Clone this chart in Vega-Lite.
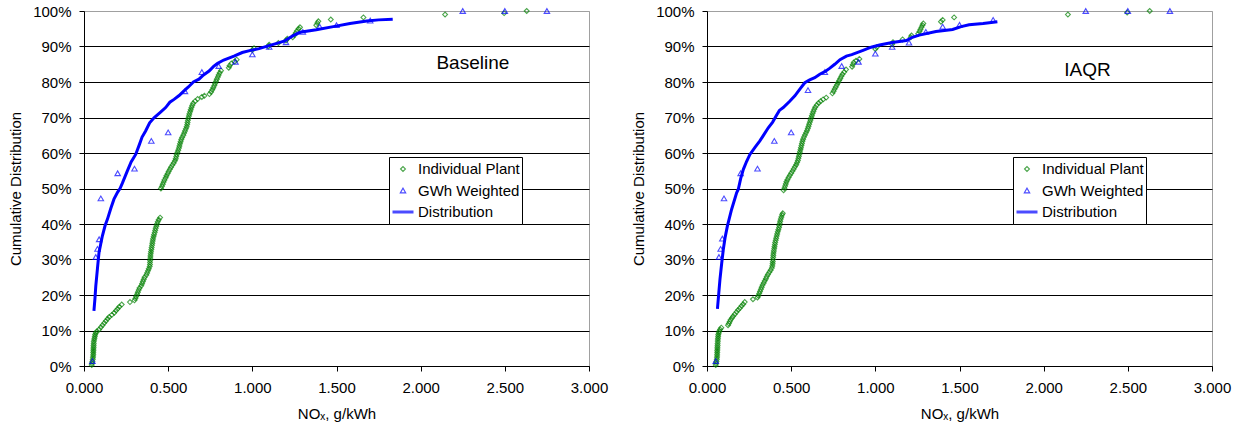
{
  "$schema": "https://vega.github.io/schema/vega-lite/v6.json",
  "padding": {"left": 8, "top": 3, "right": 5, "bottom": 3},
  "spacing": 118,
  "bounds": "flush",
  "config": {
    "font": "Liberation Sans",
    "view": {"stroke": "#a0a0a0", "strokeWidth": 1},
    "axis": {"labelFont": "Liberation Sans", "titleFont": "Liberation Sans", "labelColor": "black", "titleColor": "black", "labelFontSize": 15, "titleFontSize": 15, "titleFontWeight": "normal", "domainColor": "black", "tickColor": "black", "tickSize": 5, "labelFlush": false, "labelOverlap": false},
    "legend": {"title": null, "strokeColor": "black", "fillColor": "white", "padding": 2, "labelFont": "Liberation Sans", "labelFontSize": 15, "labelColor": "black", "labelOffset": 3, "rowPadding": 1.5, "clipHeight": 20, "gridAlign": "each", "orient": "none"}
  },
  "datasets": {
    "baseline": [
      {"s":"Individual Plant","x":0.046,"y":0.3},{"s":"Individual Plant","x":0.048,"y":0.8},{"s":"Individual Plant","x":0.05,"y":1.3},{"s":"Individual Plant","x":0.052,"y":1.8},{"s":"Individual Plant","x":0.053,"y":2.3},{"s":"Individual Plant","x":0.054,"y":2.8},{"s":"Individual Plant","x":0.055,"y":3.3},{"s":"Individual Plant","x":0.055,"y":3.8},{"s":"Individual Plant","x":0.056,"y":4.3},{"s":"Individual Plant","x":0.056,"y":4.8},{"s":"Individual Plant","x":0.057,"y":5.3},{"s":"Individual Plant","x":0.057,"y":5.8},{"s":"Individual Plant","x":0.058,"y":6.3},{"s":"Individual Plant","x":0.058,"y":6.8},{"s":"Individual Plant","x":0.06,"y":7.3},{"s":"Individual Plant","x":0.062,"y":7.8},{"s":"Individual Plant","x":0.064,"y":8.3},{"s":"Individual Plant","x":0.066,"y":8.8},{"s":"Individual Plant","x":0.07,"y":9.3},{"s":"Individual Plant","x":0.077,"y":9.8},
      {"s":"Individual Plant","x":0.09,"y":10.3},{"s":"Individual Plant","x":0.1,"y":10.9},{"s":"Individual Plant","x":0.11,"y":11.5},{"s":"Individual Plant","x":0.12,"y":12.1},{"s":"Individual Plant","x":0.13,"y":12.7},{"s":"Individual Plant","x":0.14,"y":13.3},{"s":"Individual Plant","x":0.15,"y":13.8},{"s":"Individual Plant","x":0.165,"y":14.4},{"s":"Individual Plant","x":0.18,"y":15.0},{"s":"Individual Plant","x":0.19,"y":15.6},{"s":"Individual Plant","x":0.2,"y":16.1},{"s":"Individual Plant","x":0.21,"y":16.7},{"s":"Individual Plant","x":0.224,"y":17.3},
      {"s":"Individual Plant","x":0.273,"y":18.0},{"s":"Individual Plant","x":0.3,"y":18.5},{"s":"Individual Plant","x":0.305,"y":19.0},{"s":"Individual Plant","x":0.31,"y":19.6},{"s":"Individual Plant","x":0.315,"y":20.2},{"s":"Individual Plant","x":0.32,"y":20.8},{"s":"Individual Plant","x":0.325,"y":21.4},{"s":"Individual Plant","x":0.33,"y":22.0},{"s":"Individual Plant","x":0.34,"y":22.6},{"s":"Individual Plant","x":0.345,"y":23.2},{"s":"Individual Plant","x":0.35,"y":23.8},{"s":"Individual Plant","x":0.355,"y":24.4},{"s":"Individual Plant","x":0.36,"y":25.0},{"s":"Individual Plant","x":0.37,"y":25.6},{"s":"Individual Plant","x":0.375,"y":26.2},{"s":"Individual Plant","x":0.38,"y":26.8},{"s":"Individual Plant","x":0.385,"y":27.4},{"s":"Individual Plant","x":0.39,"y":28.0},{"s":"Individual Plant","x":0.392,"y":28.6},{"s":"Individual Plant","x":0.392,"y":29.2},{"s":"Individual Plant","x":0.393,"y":29.8},{"s":"Individual Plant","x":0.394,"y":30.4},{"s":"Individual Plant","x":0.395,"y":31.0},{"s":"Individual Plant","x":0.396,"y":31.6},{"s":"Individual Plant","x":0.398,"y":32.2},{"s":"Individual Plant","x":0.4,"y":32.8},{"s":"Individual Plant","x":0.402,"y":33.4},{"s":"Individual Plant","x":0.404,"y":34.0},{"s":"Individual Plant","x":0.406,"y":34.6},{"s":"Individual Plant","x":0.408,"y":35.2},{"s":"Individual Plant","x":0.41,"y":35.8},{"s":"Individual Plant","x":0.413,"y":36.4},{"s":"Individual Plant","x":0.416,"y":37.0},{"s":"Individual Plant","x":0.42,"y":37.6},{"s":"Individual Plant","x":0.423,"y":38.2},{"s":"Individual Plant","x":0.426,"y":38.8},{"s":"Individual Plant","x":0.43,"y":39.4},{"s":"Individual Plant","x":0.434,"y":40.0},{"s":"Individual Plant","x":0.438,"y":40.6},{"s":"Individual Plant","x":0.444,"y":41.2},{"s":"Individual Plant","x":0.452,"y":41.8},
      {"s":"Individual Plant","x":0.457,"y":50.0},{"s":"Individual Plant","x":0.463,"y":50.6},{"s":"Individual Plant","x":0.468,"y":51.2},{"s":"Individual Plant","x":0.473,"y":51.8},{"s":"Individual Plant","x":0.478,"y":52.4},{"s":"Individual Plant","x":0.485,"y":53.0},{"s":"Individual Plant","x":0.49,"y":53.6},{"s":"Individual Plant","x":0.497,"y":54.2},{"s":"Individual Plant","x":0.503,"y":54.8},{"s":"Individual Plant","x":0.51,"y":55.4},{"s":"Individual Plant","x":0.517,"y":56.0},{"s":"Individual Plant","x":0.525,"y":56.6},{"s":"Individual Plant","x":0.533,"y":57.2},{"s":"Individual Plant","x":0.54,"y":57.8},{"s":"Individual Plant","x":0.545,"y":58.4},{"s":"Individual Plant","x":0.548,"y":59.0},{"s":"Individual Plant","x":0.551,"y":59.6},{"s":"Individual Plant","x":0.555,"y":60.2},{"s":"Individual Plant","x":0.56,"y":60.8},{"s":"Individual Plant","x":0.564,"y":61.4},{"s":"Individual Plant","x":0.567,"y":62.0},{"s":"Individual Plant","x":0.57,"y":62.6},{"s":"Individual Plant","x":0.574,"y":63.2},{"s":"Individual Plant","x":0.578,"y":63.8},{"s":"Individual Plant","x":0.583,"y":64.4},{"s":"Individual Plant","x":0.59,"y":65.0},{"s":"Individual Plant","x":0.595,"y":65.6},{"s":"Individual Plant","x":0.6,"y":66.2},{"s":"Individual Plant","x":0.605,"y":66.8},{"s":"Individual Plant","x":0.61,"y":67.4},{"s":"Individual Plant","x":0.613,"y":68.0},{"s":"Individual Plant","x":0.615,"y":68.6},{"s":"Individual Plant","x":0.617,"y":69.2},{"s":"Individual Plant","x":0.62,"y":69.8},{"s":"Individual Plant","x":0.623,"y":70.4},{"s":"Individual Plant","x":0.626,"y":71.0},{"s":"Individual Plant","x":0.63,"y":71.6},{"s":"Individual Plant","x":0.634,"y":72.2},{"s":"Individual Plant","x":0.638,"y":72.8},{"s":"Individual Plant","x":0.643,"y":73.4},{"s":"Individual Plant","x":0.648,"y":74.0},{"s":"Individual Plant","x":0.66,"y":74.6},{"s":"Individual Plant","x":0.675,"y":75.2},{"s":"Individual Plant","x":0.7,"y":75.8},{"s":"Individual Plant","x":0.715,"y":76.1},{"s":"Individual Plant","x":0.745,"y":76.6},{"s":"Individual Plant","x":0.755,"y":77.2},{"s":"Individual Plant","x":0.762,"y":77.8},{"s":"Individual Plant","x":0.768,"y":78.4},{"s":"Individual Plant","x":0.774,"y":79.0},{"s":"Individual Plant","x":0.779,"y":79.6},{"s":"Individual Plant","x":0.784,"y":80.2},{"s":"Individual Plant","x":0.789,"y":80.8},{"s":"Individual Plant","x":0.795,"y":81.4},{"s":"Individual Plant","x":0.8,"y":82.0},{"s":"Individual Plant","x":0.806,"y":82.6},{"s":"Individual Plant","x":0.814,"y":83.2},
      {"s":"Individual Plant","x":0.86,"y":84.0},{"s":"Individual Plant","x":0.865,"y":84.6},{"s":"Individual Plant","x":0.875,"y":85.2},{"s":"Individual Plant","x":0.895,"y":85.8},{"s":"Individual Plant","x":0.907,"y":86.3},{"s":"Individual Plant","x":1.0,"y":89.0},{"s":"Individual Plant","x":1.01,"y":89.5},{"s":"Individual Plant","x":1.095,"y":90.0},{"s":"Individual Plant","x":1.1,"y":90.5},{"s":"Individual Plant","x":1.155,"y":91.0},{"s":"Individual Plant","x":1.2,"y":91.7},{"s":"Individual Plant","x":1.208,"y":92.2},{"s":"Individual Plant","x":1.24,"y":92.6},{"s":"Individual Plant","x":1.25,"y":93.2},{"s":"Individual Plant","x":1.258,"y":93.8},{"s":"Individual Plant","x":1.265,"y":94.4},{"s":"Individual Plant","x":1.275,"y":95.0},{"s":"Individual Plant","x":1.283,"y":95.4},{"s":"Individual Plant","x":1.38,"y":96.0},{"s":"Individual Plant","x":1.386,"y":96.6},{"s":"Individual Plant","x":1.392,"y":97.1},{"s":"Individual Plant","x":1.466,"y":97.6},{"s":"Individual Plant","x":1.66,"y":98.2},{"s":"Individual Plant","x":2.145,"y":99.0},{"s":"Individual Plant","x":2.496,"y":99.4},{"s":"Individual Plant","x":2.63,"y":100.0},
      {"s":"GWh Weighted","x":0.05,"y":1.4},{"s":"GWh Weighted","x":0.07,"y":30.7},{"s":"GWh Weighted","x":0.08,"y":33.0},{"s":"GWh Weighted","x":0.09,"y":35.7},{"s":"GWh Weighted","x":0.1,"y":47.2},{"s":"GWh Weighted","x":0.2,"y":54.3},{"s":"GWh Weighted","x":0.3,"y":55.6},{"s":"GWh Weighted","x":0.4,"y":63.4},{"s":"GWh Weighted","x":0.5,"y":65.8},{"s":"GWh Weighted","x":0.6,"y":77.4},{"s":"GWh Weighted","x":0.7,"y":82.8},{"s":"GWh Weighted","x":0.8,"y":84.5},{"s":"GWh Weighted","x":0.9,"y":85.7},{"s":"GWh Weighted","x":1.0,"y":87.8},{"s":"GWh Weighted","x":1.1,"y":89.9},{"s":"GWh Weighted","x":1.2,"y":91.2},{"s":"GWh Weighted","x":1.3,"y":94.1},{"s":"GWh Weighted","x":1.4,"y":95.6},{"s":"GWh Weighted","x":1.5,"y":96.0},{"s":"GWh Weighted","x":1.7,"y":97.3},{"s":"GWh Weighted","x":2.25,"y":100.0},{"s":"GWh Weighted","x":2.5,"y":100.0},{"s":"GWh Weighted","x":2.75,"y":100.0},
      {"s":"Distribution","x":0.059,"y":15.5},{"s":"Distribution","x":0.065,"y":19.0},{"s":"Distribution","x":0.07,"y":22.5},{"s":"Distribution","x":0.08,"y":27.5},{"s":"Distribution","x":0.089,"y":31.9},{"s":"Distribution","x":0.1,"y":34.5},{"s":"Distribution","x":0.109,"y":36.6},{"s":"Distribution","x":0.125,"y":39.5},{"s":"Distribution","x":0.139,"y":41.3},{"s":"Distribution","x":0.16,"y":44.5},{"s":"Distribution","x":0.178,"y":47.0},{"s":"Distribution","x":0.2,"y":49.0},{"s":"Distribution","x":0.214,"y":50.0},{"s":"Distribution","x":0.228,"y":51.5},{"s":"Distribution","x":0.257,"y":54.9},{"s":"Distribution","x":0.28,"y":57.5},{"s":"Distribution","x":0.307,"y":59.6},{"s":"Distribution","x":0.33,"y":62.5},{"s":"Distribution","x":0.345,"y":64.5},{"s":"Distribution","x":0.366,"y":66.2},{"s":"Distribution","x":0.39,"y":68.5},{"s":"Distribution","x":0.416,"y":69.9},{"s":"Distribution","x":0.45,"y":71.3},{"s":"Distribution","x":0.485,"y":72.8},{"s":"Distribution","x":0.51,"y":74.3},{"s":"Distribution","x":0.535,"y":75.1},{"s":"Distribution","x":0.565,"y":76.2},{"s":"Distribution","x":0.594,"y":77.5},{"s":"Distribution","x":0.62,"y":78.6},{"s":"Distribution","x":0.65,"y":80.0},{"s":"Distribution","x":0.683,"y":80.8},{"s":"Distribution","x":0.71,"y":82.0},{"s":"Distribution","x":0.743,"y":83.1},{"s":"Distribution","x":0.77,"y":84.4},{"s":"Distribution","x":0.792,"y":85.2},{"s":"Distribution","x":0.83,"y":86.2},{"s":"Distribution","x":0.891,"y":87.3},{"s":"Distribution","x":0.94,"y":88.3},{"s":"Distribution","x":0.99,"y":88.9},{"s":"Distribution","x":1.04,"y":89.4},{"s":"Distribution","x":1.089,"y":90.1},{"s":"Distribution","x":1.14,"y":90.8},{"s":"Distribution","x":1.188,"y":91.5},{"s":"Distribution","x":1.24,"y":93.0},{"s":"Distribution","x":1.283,"y":94.0},{"s":"Distribution","x":1.38,"y":94.7},{"s":"Distribution","x":1.481,"y":95.6},{"s":"Distribution","x":1.58,"y":96.5},{"s":"Distribution","x":1.68,"y":97.2},{"s":"Distribution","x":1.75,"y":97.5},{"s":"Distribution","x":1.834,"y":97.7}
    ],
    "iaqr": [
      {"s":"Individual Plant","x":0.052,"y":0.3},{"s":"Individual Plant","x":0.054,"y":0.8},{"s":"Individual Plant","x":0.056,"y":1.3},{"s":"Individual Plant","x":0.058,"y":1.8},{"s":"Individual Plant","x":0.059,"y":2.3},{"s":"Individual Plant","x":0.06,"y":2.8},{"s":"Individual Plant","x":0.06,"y":3.3},{"s":"Individual Plant","x":0.061,"y":3.8},{"s":"Individual Plant","x":0.061,"y":4.3},{"s":"Individual Plant","x":0.062,"y":4.8},{"s":"Individual Plant","x":0.062,"y":5.3},{"s":"Individual Plant","x":0.063,"y":5.8},{"s":"Individual Plant","x":0.063,"y":6.3},{"s":"Individual Plant","x":0.064,"y":6.8},{"s":"Individual Plant","x":0.064,"y":7.3},{"s":"Individual Plant","x":0.065,"y":7.8},{"s":"Individual Plant","x":0.066,"y":8.3},{"s":"Individual Plant","x":0.067,"y":8.8},{"s":"Individual Plant","x":0.07,"y":9.3},{"s":"Individual Plant","x":0.073,"y":9.8},{"s":"Individual Plant","x":0.078,"y":10.3},{"s":"Individual Plant","x":0.085,"y":10.8},
      {"s":"Individual Plant","x":0.125,"y":11.5},{"s":"Individual Plant","x":0.13,"y":12.0},{"s":"Individual Plant","x":0.135,"y":12.5},{"s":"Individual Plant","x":0.14,"y":13.0},{"s":"Individual Plant","x":0.148,"y":13.5},{"s":"Individual Plant","x":0.155,"y":14.0},{"s":"Individual Plant","x":0.165,"y":14.6},{"s":"Individual Plant","x":0.175,"y":15.2},{"s":"Individual Plant","x":0.185,"y":15.8},{"s":"Individual Plant","x":0.195,"y":16.3},{"s":"Individual Plant","x":0.205,"y":16.9},{"s":"Individual Plant","x":0.215,"y":17.4},{"s":"Individual Plant","x":0.224,"y":18.0},
      {"s":"Individual Plant","x":0.273,"y":18.8},{"s":"Individual Plant","x":0.3,"y":19.3},{"s":"Individual Plant","x":0.305,"y":19.8},{"s":"Individual Plant","x":0.31,"y":20.4},{"s":"Individual Plant","x":0.315,"y":21.0},{"s":"Individual Plant","x":0.32,"y":21.6},{"s":"Individual Plant","x":0.325,"y":22.2},{"s":"Individual Plant","x":0.33,"y":22.8},{"s":"Individual Plant","x":0.337,"y":23.4},{"s":"Individual Plant","x":0.343,"y":24.0},{"s":"Individual Plant","x":0.35,"y":24.6},{"s":"Individual Plant","x":0.355,"y":25.2},{"s":"Individual Plant","x":0.362,"y":25.8},{"s":"Individual Plant","x":0.37,"y":26.4},{"s":"Individual Plant","x":0.378,"y":27.0},{"s":"Individual Plant","x":0.385,"y":27.6},{"s":"Individual Plant","x":0.388,"y":28.2},{"s":"Individual Plant","x":0.39,"y":28.8},{"s":"Individual Plant","x":0.391,"y":29.4},{"s":"Individual Plant","x":0.392,"y":30.0},{"s":"Individual Plant","x":0.393,"y":30.6},{"s":"Individual Plant","x":0.394,"y":31.2},{"s":"Individual Plant","x":0.395,"y":31.8},{"s":"Individual Plant","x":0.397,"y":32.4},{"s":"Individual Plant","x":0.399,"y":33.0},{"s":"Individual Plant","x":0.401,"y":33.6},{"s":"Individual Plant","x":0.403,"y":34.2},{"s":"Individual Plant","x":0.405,"y":34.8},{"s":"Individual Plant","x":0.408,"y":35.4},{"s":"Individual Plant","x":0.411,"y":36.0},{"s":"Individual Plant","x":0.414,"y":36.6},{"s":"Individual Plant","x":0.417,"y":37.2},{"s":"Individual Plant","x":0.42,"y":37.8},{"s":"Individual Plant","x":0.424,"y":38.4},{"s":"Individual Plant","x":0.428,"y":39.0},{"s":"Individual Plant","x":0.43,"y":39.6},{"s":"Individual Plant","x":0.432,"y":40.2},{"s":"Individual Plant","x":0.435,"y":40.8},{"s":"Individual Plant","x":0.438,"y":41.4},{"s":"Individual Plant","x":0.442,"y":42.0},{"s":"Individual Plant","x":0.446,"y":42.6},{"s":"Individual Plant","x":0.45,"y":43.0},
      {"s":"Individual Plant","x":0.455,"y":49.5},{"s":"Individual Plant","x":0.46,"y":50.1},{"s":"Individual Plant","x":0.464,"y":50.7},{"s":"Individual Plant","x":0.468,"y":51.3},{"s":"Individual Plant","x":0.472,"y":51.9},{"s":"Individual Plant","x":0.478,"y":52.5},{"s":"Individual Plant","x":0.485,"y":53.1},{"s":"Individual Plant","x":0.492,"y":53.7},{"s":"Individual Plant","x":0.5,"y":54.3},{"s":"Individual Plant","x":0.508,"y":54.9},{"s":"Individual Plant","x":0.515,"y":55.5},{"s":"Individual Plant","x":0.522,"y":56.1},{"s":"Individual Plant","x":0.53,"y":56.7},{"s":"Individual Plant","x":0.535,"y":57.3},{"s":"Individual Plant","x":0.54,"y":57.9},{"s":"Individual Plant","x":0.543,"y":58.5},{"s":"Individual Plant","x":0.546,"y":59.1},{"s":"Individual Plant","x":0.549,"y":59.7},{"s":"Individual Plant","x":0.552,"y":60.3},{"s":"Individual Plant","x":0.555,"y":60.9},{"s":"Individual Plant","x":0.558,"y":61.5},{"s":"Individual Plant","x":0.561,"y":62.1},{"s":"Individual Plant","x":0.564,"y":62.7},{"s":"Individual Plant","x":0.567,"y":63.3},{"s":"Individual Plant","x":0.571,"y":63.9},{"s":"Individual Plant","x":0.576,"y":64.5},{"s":"Individual Plant","x":0.582,"y":65.1},{"s":"Individual Plant","x":0.588,"y":65.7},{"s":"Individual Plant","x":0.594,"y":66.3},{"s":"Individual Plant","x":0.599,"y":66.9},{"s":"Individual Plant","x":0.603,"y":67.5},{"s":"Individual Plant","x":0.607,"y":68.1},{"s":"Individual Plant","x":0.611,"y":68.7},{"s":"Individual Plant","x":0.615,"y":69.3},{"s":"Individual Plant","x":0.619,"y":69.9},{"s":"Individual Plant","x":0.623,"y":70.5},{"s":"Individual Plant","x":0.627,"y":71.1},{"s":"Individual Plant","x":0.632,"y":71.7},{"s":"Individual Plant","x":0.637,"y":72.3},{"s":"Individual Plant","x":0.643,"y":72.9},{"s":"Individual Plant","x":0.652,"y":73.5},{"s":"Individual Plant","x":0.663,"y":74.1},{"s":"Individual Plant","x":0.675,"y":74.6},{"s":"Individual Plant","x":0.69,"y":75.1},{"s":"Individual Plant","x":0.708,"y":75.6},{"s":"Individual Plant","x":0.745,"y":76.8},{"s":"Individual Plant","x":0.752,"y":77.4},{"s":"Individual Plant","x":0.758,"y":78.0},{"s":"Individual Plant","x":0.765,"y":78.6},{"s":"Individual Plant","x":0.772,"y":79.2},{"s":"Individual Plant","x":0.778,"y":79.8},{"s":"Individual Plant","x":0.785,"y":80.4},{"s":"Individual Plant","x":0.792,"y":81.0},{"s":"Individual Plant","x":0.798,"y":81.6},{"s":"Individual Plant","x":0.805,"y":82.2},{"s":"Individual Plant","x":0.815,"y":82.8},{"s":"Individual Plant","x":0.826,"y":83.5},
      {"s":"Individual Plant","x":0.862,"y":84.3},{"s":"Individual Plant","x":0.866,"y":84.9},{"s":"Individual Plant","x":0.872,"y":85.5},{"s":"Individual Plant","x":0.885,"y":86.0},{"s":"Individual Plant","x":0.905,"y":86.5},{"s":"Individual Plant","x":1.0,"y":89.3},{"s":"Individual Plant","x":1.008,"y":89.8},{"s":"Individual Plant","x":1.1,"y":90.6},{"s":"Individual Plant","x":1.105,"y":91.2},{"s":"Individual Plant","x":1.162,"y":92.0},{"s":"Individual Plant","x":1.21,"y":92.6},{"s":"Individual Plant","x":1.215,"y":93.1},{"s":"Individual Plant","x":1.255,"y":93.6},{"s":"Individual Plant","x":1.262,"y":94.2},{"s":"Individual Plant","x":1.268,"y":94.8},{"s":"Individual Plant","x":1.274,"y":95.4},{"s":"Individual Plant","x":1.28,"y":96.0},{"s":"Individual Plant","x":1.285,"y":96.5},{"s":"Individual Plant","x":1.39,"y":97.0},{"s":"Individual Plant","x":1.4,"y":97.5},{"s":"Individual Plant","x":1.468,"y":98.2},{"s":"Individual Plant","x":2.144,"y":99.0},{"s":"Individual Plant","x":2.496,"y":99.6},{"s":"Individual Plant","x":2.63,"y":100.0},
      {"s":"GWh Weighted","x":0.052,"y":1.4},{"s":"GWh Weighted","x":0.071,"y":30.7},{"s":"GWh Weighted","x":0.081,"y":33.0},{"s":"GWh Weighted","x":0.091,"y":35.9},{"s":"GWh Weighted","x":0.101,"y":47.2},{"s":"GWh Weighted","x":0.2,"y":54.3},{"s":"GWh Weighted","x":0.3,"y":55.6},{"s":"GWh Weighted","x":0.4,"y":63.4},{"s":"GWh Weighted","x":0.5,"y":65.8},{"s":"GWh Weighted","x":0.6,"y":77.7},{"s":"GWh Weighted","x":0.7,"y":82.8},{"s":"GWh Weighted","x":0.8,"y":84.5},{"s":"GWh Weighted","x":0.9,"y":85.7},{"s":"GWh Weighted","x":1.0,"y":88.0},{"s":"GWh Weighted","x":1.1,"y":89.9},{"s":"GWh Weighted","x":1.2,"y":91.1},{"s":"GWh Weighted","x":1.3,"y":94.1},{"s":"GWh Weighted","x":1.4,"y":95.6},{"s":"GWh Weighted","x":1.5,"y":96.1},{"s":"GWh Weighted","x":1.7,"y":97.5},{"s":"GWh Weighted","x":2.25,"y":100.0},{"s":"GWh Weighted","x":2.5,"y":100.0},{"s":"GWh Weighted","x":2.75,"y":100.0},
      {"s":"Distribution","x":0.062,"y":16.1},{"s":"Distribution","x":0.07,"y":20.5},{"s":"Distribution","x":0.077,"y":24.4},{"s":"Distribution","x":0.087,"y":28.8},{"s":"Distribution","x":0.097,"y":32.9},{"s":"Distribution","x":0.108,"y":36.3},{"s":"Distribution","x":0.121,"y":39.4},{"s":"Distribution","x":0.146,"y":44.1},{"s":"Distribution","x":0.176,"y":48.8},{"s":"Distribution","x":0.186,"y":49.8},{"s":"Distribution","x":0.2,"y":52.8},{"s":"Distribution","x":0.216,"y":55.4},{"s":"Distribution","x":0.235,"y":57.6},{"s":"Distribution","x":0.255,"y":59.6},{"s":"Distribution","x":0.285,"y":61.6},{"s":"Distribution","x":0.314,"y":63.4},{"s":"Distribution","x":0.34,"y":65.3},{"s":"Distribution","x":0.364,"y":67.1},{"s":"Distribution","x":0.39,"y":68.7},{"s":"Distribution","x":0.413,"y":70.6},{"s":"Distribution","x":0.43,"y":72.0},{"s":"Distribution","x":0.453,"y":72.8},{"s":"Distribution","x":0.49,"y":74.5},{"s":"Distribution","x":0.522,"y":76.1},{"s":"Distribution","x":0.555,"y":78.2},{"s":"Distribution","x":0.581,"y":79.8},{"s":"Distribution","x":0.61,"y":80.6},{"s":"Distribution","x":0.64,"y":81.2},{"s":"Distribution","x":0.67,"y":82.2},{"s":"Distribution","x":0.7,"y":82.9},{"s":"Distribution","x":0.73,"y":83.9},{"s":"Distribution","x":0.759,"y":85.0},{"s":"Distribution","x":0.79,"y":86.3},{"s":"Distribution","x":0.828,"y":87.3},{"s":"Distribution","x":0.86,"y":87.7},{"s":"Distribution","x":0.927,"y":88.9},{"s":"Distribution","x":0.975,"y":89.8},{"s":"Distribution","x":1.025,"y":90.4},{"s":"Distribution","x":1.1,"y":91.1},{"s":"Distribution","x":1.184,"y":91.7},{"s":"Distribution","x":1.22,"y":92.6},{"s":"Distribution","x":1.261,"y":93.2},{"s":"Distribution","x":1.36,"y":94.2},{"s":"Distribution","x":1.459,"y":94.8},{"s":"Distribution","x":1.51,"y":95.6},{"s":"Distribution","x":1.557,"y":96.1},{"s":"Distribution","x":1.64,"y":96.5},{"s":"Distribution","x":1.725,"y":97.0}
    ]
  },
  "resolve": {"legend": {"color": "independent", "shape": "independent", "size": "independent", "strokeWidth": "independent"}},
  "hconcat": [
    {
      "width": 505, "height": 355,
      "data": {"name": "baseline"},
      "encoding": {
        "x": {"field": "x", "type": "quantitative", "scale": {"domain": [0, 3], "nice": false, "zero": false},
          "axis": {"values": [0, 0.5, 1, 1.5, 2, 2.5, 3], "format": ".3f", "grid": false, "title": "NOₓ, g/kWh", "labelPadding": 9, "titlePadding": 11}},
        "y": {"field": "y", "type": "quantitative", "scale": {"domain": [0, 100], "nice": false},
          "axis": {"values": [0, 10, 20, 30, 40, 50, 60, 70, 80, 90, 100], "labelExpr": "datum.value + '%'", "grid": true, "gridColor": {"condition": {"test": "datum.value === 100", "value": "#a0a0a0"}, "value": "black"}, "gridOpacity": 1, "title": "Cumulative Distribution", "labelPadding": 8, "titlePadding": 9}}
      },
      "layer": [
        {
          "transform": [{"filter": "datum.s !== 'Distribution'"}],
          "mark": {"type": "point", "filled": false},
          "encoding": {
            "color": {"field": "s", "type": "nominal", "scale": {"domain": ["Individual Plant", "GWh Weighted", "Distribution"], "range": ["#008000", "#0000ff", "#0000ff"]},
              "legend": {"orient": "none", "legendX": 305, "legendY": 146}},
            "shape": {"field": "s", "type": "nominal", "scale": {"domain": ["Individual Plant", "GWh Weighted", "Distribution"], "range": ["diamond", "triangle-up", "stroke"]},
              "legend": {"orient": "none", "legendX": 305, "legendY": 146}},
            "size": {"field": "s", "type": "nominal", "scale": {"type": "ordinal", "domain": ["Individual Plant", "GWh Weighted", "Distribution"], "range": [24, 30, 441]},
              "legend": {"orient": "none", "legendX": 305, "legendY": 146}},
            "strokeWidth": {"field": "s", "type": "nominal", "scale": {"type": "ordinal", "domain": ["Individual Plant", "GWh Weighted", "Distribution"], "range": [1.1, 1.1, 3]},
              "legend": {"orient": "none", "legendX": 305, "legendY": 146}}
          }
        },
        {
          "transform": [{"filter": "datum.s === 'Distribution'"}],
          "mark": {"type": "line", "strokeWidth": 3},
          "encoding": {"color": {"field": "s", "type": "nominal"}, "order": {"field": "x", "type": "quantitative"}}
        },
        {
          "data": {"values": [{"t": "Baseline", "x": 2.31, "y": 85.3}]},
          "mark": {"type": "text", "font": "Liberation Sans", "fontSize": 19, "color": "black", "align": "center", "baseline": "middle"},
          "encoding": {"text": {"field": "t"}}
        }
      ]
    },
    {
      "width": 505, "height": 355,
      "data": {"name": "iaqr"},
      "encoding": {
        "x": {"field": "x", "type": "quantitative", "scale": {"domain": [0, 3], "nice": false, "zero": false},
          "axis": {"values": [0, 0.5, 1, 1.5, 2, 2.5, 3], "format": ".3f", "grid": false, "title": "NOₓ, g/kWh", "labelPadding": 9, "titlePadding": 11}},
        "y": {"field": "y", "type": "quantitative", "scale": {"domain": [0, 100], "nice": false},
          "axis": {"values": [0, 10, 20, 30, 40, 50, 60, 70, 80, 90, 100], "labelExpr": "datum.value + '%'", "grid": true, "gridColor": {"condition": {"test": "datum.value === 100", "value": "#a0a0a0"}, "value": "black"}, "gridOpacity": 1, "title": "Cumulative Distribution", "labelPadding": 8, "titlePadding": 9}}
      },
      "layer": [
        {
          "transform": [{"filter": "datum.s !== 'Distribution'"}],
          "mark": {"type": "point", "filled": false},
          "encoding": {
            "color": {"field": "s", "type": "nominal", "scale": {"domain": ["Individual Plant", "GWh Weighted", "Distribution"], "range": ["#008000", "#0000ff", "#0000ff"]},
              "legend": {"orient": "none", "legendX": 306, "legendY": 146}},
            "shape": {"field": "s", "type": "nominal", "scale": {"domain": ["Individual Plant", "GWh Weighted", "Distribution"], "range": ["diamond", "triangle-up", "stroke"]},
              "legend": {"orient": "none", "legendX": 306, "legendY": 146}},
            "size": {"field": "s", "type": "nominal", "scale": {"type": "ordinal", "domain": ["Individual Plant", "GWh Weighted", "Distribution"], "range": [24, 30, 441]},
              "legend": {"orient": "none", "legendX": 306, "legendY": 146}},
            "strokeWidth": {"field": "s", "type": "nominal", "scale": {"type": "ordinal", "domain": ["Individual Plant", "GWh Weighted", "Distribution"], "range": [1.1, 1.1, 3]},
              "legend": {"orient": "none", "legendX": 306, "legendY": 146}}
          }
        },
        {
          "transform": [{"filter": "datum.s === 'Distribution'"}],
          "mark": {"type": "line", "strokeWidth": 3},
          "encoding": {"color": {"field": "s", "type": "nominal"}, "order": {"field": "x", "type": "quantitative"}}
        },
        {
          "data": {"values": [{"t": "IAQR", "x": 2.26, "y": 83.3}]},
          "mark": {"type": "text", "font": "Liberation Sans", "fontSize": 19, "color": "black", "align": "center", "baseline": "middle"},
          "encoding": {"text": {"field": "t"}}
        }
      ]
    }
  ]
}
